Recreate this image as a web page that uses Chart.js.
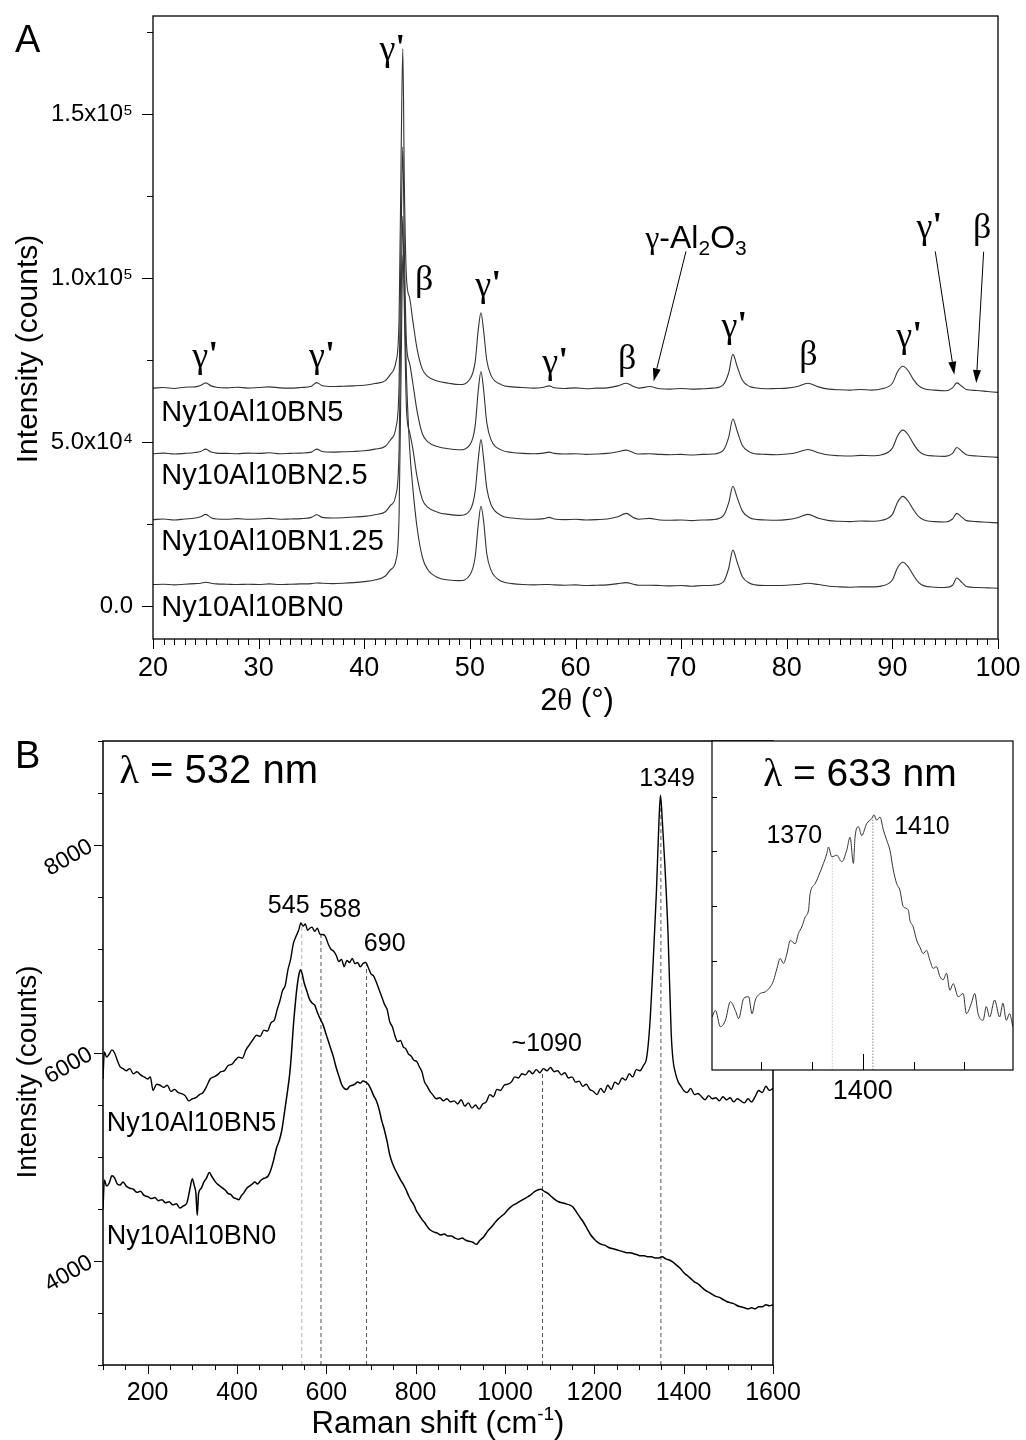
<!DOCTYPE html>
<html>
<head>
<meta charset="utf-8">
<script src="https://cdn.jsdelivr.net/npm/chart.js@4.4.1/dist/chart.umd.min.js"></script>
<style>
  body { margin: 0; background: #fff; width: 1026px; height: 1440px; position: relative; overflow: hidden; }
  canvas { position: absolute; }
</style>
</head>
<body>
<canvas id="xrd" width="1026" height="720" style="left:0;top:0"></canvas>
<canvas id="raman" width="1026" height="740" style="left:0;top:700px"></canvas>
<canvas id="inset" width="336" height="400" style="left:690px;top:720px"></canvas>
<script>
// ---- panel A : XRD, intensities in 10^3 counts ----
const xrdSamples = ['Ny10Al10BN5', 'Ny10Al10BN2.5', 'Ny10Al10BN1.25', 'Ny10Al10BN0']

const twoTheta = [20, 21, 22, 23, 24,
  24.5, 25, 25.5, 26,
  27, 28, 29, 30, 31, 32, 33, 34, 35,
  35.5, 36,
  37, 38, 39, 40, 41, 42,
  42.5, 43, 43.3, 43.5, 43.65, 43.8, 44, 44.3, 44.6, 45, 45.5, 46,
  47, 48, 49, 50,
  50.5, 50.8, 51.05, 51.3, 51.6, 52,
  53, 54, 55, 56, 57,
  57.5, 58,
  59, 60, 61, 62, 63, 64,
  64.8, 65.5, 66,
  67, 68, 69, 70, 71, 72, 73, 74,
  74.5, 74.9, 75.3, 75.8, 76.5, 77,
  78, 79, 80, 81, 82, 83, 84, 85, 86, 87, 88, 89, 90,
  90.5, 91, 91.5, 92, 92.5, 93,
  94, 95,
  95.7, 96.1, 96.6, 97,
  98, 99, 100]

const xrdBN5 = [66.5, 66.7, 66.4, 66.8, 66.9,
  67.3, 68.1, 67.2, 66.8,
  66.6, 66.8, 66.5, 66.7, 66.9, 66.6, 66.5, 66.7, 67.1,
  68.2, 67.3,
  67.0, 67.1, 67.2, 67.4, 67.9, 68.8,
  70.8, 74.5, 88, 140, 170, 128, 100, 94, 87, 78.5, 72.3, 70.1,
  68.6, 68.0, 67.6, 69.2,
  74.5, 84.5, 89.5, 84, 75, 70.4,
  67.5, 66.9, 66.7, 66.5, 66.8,
  67.2, 66.6,
  66.4, 66.6, 66.3, 66.5, 66.6, 67.2,
  68.0, 67.0, 66.5,
  67.0, 66.3, 66.2, 66.4, 66.2, 66.3, 66.5, 67.6,
  71.2, 76.8, 73.2, 68.9, 67.0, 66.6,
  66.3, 66.4, 66.5, 67.0, 68.0, 66.9, 66.2, 66.0, 65.9, 66.1, 65.9, 66.3, 68.0,
  71.6, 73.2, 71.8, 69.1, 67.2, 66.3,
  65.9, 65.7,
  66.6, 68.1, 67.0, 66.1,
  65.8, 65.5, 65.2]

const xrdBN25 = [46.5, 46.7, 46.4, 46.6, 46.9,
  47.2, 47.9, 47.0, 46.7,
  46.6, 46.5, 46.7, 46.6, 46.8, 46.5, 46.6, 46.7, 47.0,
  47.9, 47.2,
  47.0, 47.1, 47.2, 47.4, 47.9, 48.8,
  50.8, 54.5, 68, 115, 140, 108, 80, 74, 68, 59.5, 52.6, 50.2,
  48.6, 48.0, 47.7, 49.2,
  55, 66, 71.6, 66, 56, 50.8,
  47.6, 46.9, 46.6, 46.5, 46.7,
  47.0, 46.6,
  46.4, 46.5, 46.3, 46.4, 46.6, 47.1,
  47.6, 46.8, 46.4,
  46.5, 46.3, 46.2, 46.3, 46.1, 46.3, 46.4, 47.6,
  51.5, 57.1, 53.5, 49.0, 47.0, 46.5,
  46.3, 46.2, 46.4, 46.9, 47.8, 46.8, 46.1, 45.9, 45.8, 46.0, 45.9, 46.2, 48.2,
  52.0, 53.7, 52.3, 49.5, 47.3, 46.3,
  45.8, 45.7,
  46.6, 48.4, 47.2, 46.2,
  45.8, 45.6, 45.4]

const xrdBN125 = [26.4, 26.6, 26.3, 26.6, 26.9,
  27.3, 28.0, 27.0, 26.6,
  26.5, 26.7, 26.5, 26.6, 26.8, 26.5, 26.6, 26.7, 27.1,
  27.9, 27.1,
  26.9, 27.0, 27.2, 27.4, 27.9, 28.8,
  30.8, 34, 48, 95, 119, 90, 60, 53, 48, 39.5, 32.6, 30.2,
  28.6, 28.0, 27.7, 29.2,
  35, 45, 50.8, 45, 36, 31,
  27.6, 26.9, 26.6, 26.5, 26.7,
  27.1, 26.6,
  26.4, 26.5, 26.3, 26.4, 26.6, 27.3,
  28.3, 27.0, 26.5,
  26.8, 26.3, 26.2, 26.3, 26.1, 26.3, 26.4, 27.6,
  31.5, 36.6, 33.2, 29.0, 27.0, 26.5,
  26.3, 26.2, 26.4, 27.0, 28.0, 26.8, 26.1, 25.9, 25.8, 26.0, 25.9, 26.2, 28.0,
  31.8, 33.5, 32.0, 29.4, 27.3, 26.3,
  25.8, 25.7,
  26.6, 28.3, 27.1, 26.1,
  25.8, 25.6, 25.4]

const xrdBN0 = [6.6, 6.7, 6.5, 6.7, 6.9,
  7.0, 7.3, 7.0, 6.8,
  6.7, 6.6, 6.7, 6.6, 6.8, 6.6, 6.7, 6.8, 6.9,
  7.1, 7.0,
  6.9, 7.0, 7.2, 7.5, 8.0, 9.2,
  11.2, 14, 28, 75, 107, 95, 70, 48, 36, 24, 15, 11.2,
  8.7, 8.0, 7.8, 9.5,
  15, 25, 30.5, 26, 16, 11,
  7.6, 6.9, 6.6, 6.5, 6.6,
  6.6, 6.5,
  6.4, 6.5, 6.3, 6.4, 6.5, 6.9,
  7.2, 6.7, 6.4,
  6.4, 6.3, 6.2, 6.3, 6.1, 6.3, 6.4, 7.4,
  11.5, 17.1, 13.5, 9.0, 7.0, 6.5,
  6.3, 6.3, 6.4, 6.6, 7.0, 6.6, 6.1, 5.9, 5.8, 5.9, 5.9, 6.2, 8.0,
  11.8, 13.4, 12.0, 9.4, 7.2, 6.2,
  5.8, 5.7,
  6.4, 8.6, 7.2, 6.0,
  5.7, 5.6, 5.5]

const xrdAngleTicks = [20, 30, 40, 50, 60, 70, 80, 90, 100]
const xrdIntensityTicks = [0, 50, 100, 150]
const xrdIntensityLabels = ['0.0', '5.0x10\u2074', '1.0x10\u2075', '1.5x10\u2075']

// ---- panel B : Raman 532 nm, [shift cm-1, counts] ----
const ramanBN5 = [[100, 5750], [103, 6010], [108, 5960], [114, 5990], [120, 6030], [126, 6000], [132, 5930],
  [138, 5870], [145, 5850], [152, 5830], [160, 5850], [168, 5800], [176, 5820], [184, 5790], [192, 5770],
  [200, 5750], [206, 5770], [212, 5640], [220, 5700], [228, 5690], [236, 5670], [244, 5690], [252, 5630],
  [260, 5650], [268, 5620], [276, 5610], [284, 5590], [292, 5540], [300, 5560], [308, 5570], [316, 5600],
  [324, 5620], [332, 5680], [340, 5750], [348, 5770], [356, 5790], [364, 5820], [372, 5830], [380, 5880],
  [388, 5890], [396, 5930], [404, 5960], [412, 5950], [420, 6030], [428, 6080], [436, 6130], [444, 6170],
  [452, 6160], [460, 6220], [468, 6210], [476, 6290], [484, 6320], [490, 6420], [496, 6500], [502, 6600],
  [508, 6650], [514, 6800], [520, 6900], [526, 7050], [532, 7120], [538, 7180], [543, 7250], [548, 7220],
  [553, 7240], [558, 7180], [563, 7200], [568, 7210], [574, 7170], [580, 7200], [586, 7140], [592, 7140],
  [598, 7120], [604, 7050], [610, 7000], [616, 6980], [622, 6940], [628, 6880], [634, 6900], [640, 6830],
  [646, 6890], [652, 6870], [658, 6910], [664, 6860], [670, 6870], [676, 6830], [682, 6860], [688, 6870],
  [694, 6820], [700, 6760], [706, 6740], [712, 6680], [718, 6610], [724, 6540], [730, 6470], [736, 6420],
  [742, 6300], [748, 6250], [754, 6160], [760, 6110], [766, 6120], [772, 6060], [778, 6040], [784, 5990],
  [790, 5970], [796, 5930], [802, 5920], [808, 5870], [814, 5820], [820, 5720], [826, 5680], [832, 5630],
  [838, 5600], [846, 5560], [854, 5570], [862, 5540], [870, 5560], [878, 5530], [886, 5540], [894, 5510],
  [902, 5550], [910, 5490], [918, 5520], [926, 5470], [934, 5500], [942, 5460], [950, 5510], [958, 5530],
  [966, 5600], [974, 5580], [982, 5650], [990, 5640], [998, 5690], [1006, 5700], [1014, 5720], [1022, 5770],
  [1030, 5760], [1038, 5800], [1046, 5790], [1054, 5830], [1062, 5800], [1070, 5840], [1078, 5810],
  [1086, 5850], [1094, 5830], [1102, 5860], [1110, 5820], [1118, 5830], [1126, 5790], [1134, 5810],
  [1142, 5760], [1150, 5770], [1158, 5720], [1166, 5730], [1174, 5680], [1182, 5700], [1190, 5650],
  [1198, 5630], [1206, 5600], [1214, 5660], [1222, 5620], [1230, 5690], [1238, 5650], [1246, 5720],
  [1254, 5700], [1262, 5760], [1270, 5740], [1278, 5800], [1286, 5770], [1294, 5840], [1302, 5830],
  [1310, 5880], [1317, 5950], [1324, 6260], [1332, 6900], [1339, 7550], [1344, 8150], [1348, 8480],
  [1352, 8250], [1358, 7800], [1365, 7150], [1372, 6200], [1376, 5940], [1382, 5800], [1388, 5720],
  [1394, 5680], [1400, 5640], [1408, 5620], [1416, 5660], [1424, 5600], [1432, 5610], [1440, 5580],
  [1448, 5550], [1456, 5590], [1464, 5560], [1472, 5570], [1480, 5540], [1488, 5580], [1496, 5550],
  [1504, 5570], [1512, 5530], [1520, 5560], [1528, 5540], [1536, 5520], [1544, 5560], [1552, 5530],
  [1560, 5580], [1568, 5640], [1576, 5620], [1584, 5680], [1592, 5640], [1600, 5660]]

const ramanBN0 = [[100, 4500], [103, 4780], [108, 4720], [114, 4750], [120, 4820], [126, 4800], [132, 4740],
  [138, 4730], [145, 4760], [152, 4720], [160, 4700], [168, 4690], [176, 4660], [184, 4670], [192, 4630],
  [200, 4620], [208, 4600], [216, 4610], [224, 4580], [232, 4590], [240, 4560], [248, 4570], [256, 4540],
  [264, 4550], [272, 4510], [280, 4530], [288, 4560], [294, 4680], [300, 4790], [304, 4730], [308, 4650],
  [311, 4440], [314, 4650], [320, 4700], [326, 4760], [332, 4800], [338, 4850], [344, 4810], [350, 4770],
  [356, 4740], [362, 4720], [368, 4700], [374, 4680], [380, 4650], [386, 4640], [392, 4610], [398, 4600],
  [404, 4590], [410, 4630], [416, 4660], [422, 4700], [428, 4720], [434, 4740], [440, 4760], [446, 4740],
  [452, 4770], [458, 4790], [464, 4800], [470, 4820], [476, 4880], [482, 4970], [488, 5080], [494, 5150],
  [500, 5250], [506, 5420], [512, 5600], [518, 5800], [522, 6000], [526, 6250], [530, 6450], [534, 6620],
  [538, 6740], [542, 6800], [546, 6760], [550, 6680], [556, 6600], [562, 6520], [568, 6480], [574, 6460],
  [580, 6390], [586, 6330], [592, 6280], [598, 6200], [604, 6120], [610, 6040], [616, 5960], [622, 5860],
  [628, 5780], [634, 5700], [640, 5660], [646, 5650], [652, 5680], [658, 5690], [664, 5700], [670, 5720],
  [676, 5710], [682, 5730], [688, 5720], [694, 5700], [700, 5650], [706, 5590], [712, 5540], [718, 5460],
  [724, 5350], [730, 5260], [736, 5150], [742, 5020], [748, 4940], [754, 4880], [760, 4830], [766, 4780],
  [772, 4740], [778, 4690], [784, 4630], [790, 4580], [796, 4540], [802, 4480], [808, 4440], [814, 4400],
  [820, 4370], [826, 4330], [832, 4300], [840, 4280], [848, 4270], [856, 4250], [864, 4260], [872, 4240],
  [880, 4240], [888, 4220], [896, 4210], [904, 4220], [912, 4200], [920, 4190], [928, 4180], [936, 4160],
  [944, 4200], [952, 4230], [960, 4280], [968, 4320], [976, 4360], [984, 4400], [992, 4430], [1000, 4460],
  [1008, 4500], [1016, 4530], [1024, 4550], [1032, 4570], [1040, 4590], [1048, 4610], [1056, 4630],
  [1064, 4660], [1072, 4680], [1080, 4690], [1088, 4670], [1096, 4650], [1104, 4620], [1112, 4590],
  [1120, 4570], [1128, 4560], [1136, 4550], [1144, 4540], [1152, 4520], [1160, 4470], [1168, 4420],
  [1176, 4370], [1184, 4310], [1192, 4250], [1200, 4210], [1208, 4180], [1216, 4160], [1224, 4150],
  [1232, 4130], [1240, 4120], [1248, 4110], [1256, 4100], [1264, 4090], [1272, 4080], [1280, 4080],
  [1288, 4070], [1296, 4060], [1304, 4050], [1312, 4050], [1320, 4040], [1328, 4040], [1336, 4030],
  [1344, 4030], [1352, 4040], [1360, 4020], [1368, 4010], [1376, 3990], [1384, 3960], [1392, 3930],
  [1400, 3890], [1408, 3860], [1416, 3830], [1424, 3800], [1432, 3780], [1440, 3750], [1448, 3720],
  [1456, 3700], [1464, 3680], [1472, 3660], [1480, 3650], [1488, 3630], [1496, 3610], [1504, 3600],
  [1512, 3590], [1520, 3570], [1528, 3560], [1536, 3550], [1544, 3540], [1552, 3550], [1560, 3540],
  [1568, 3560], [1576, 3560], [1584, 3580], [1592, 3570], [1600, 3580]]

const ramanMarks = [545, 588, 690, 1084, 1349]
const ramanMarkTops = [7240, 7150, 6850, 5830, 8440]
const ramanShiftTicks = [200, 400, 600, 800, 1000, 1200, 1400, 1600]
const ramanCountTicks = [4000, 6000, 8000]

// ---- inset : Raman 633 nm, arbitrary units ----
const raman633 = [[1251.6, 0.97], [1254.9, 1.09], [1259.8, 0.79], [1264.7, 0.91], [1269.6, 1.25], [1274.5, 1.09],
  [1277.8, 0.94], [1282.7, 1.31], [1287.6, 1.34], [1290.9, 1.03], [1294.2, 1.28], [1299.1, 1.40],
  [1304.0, 1.43], [1308.9, 1.52], [1312.2, 1.64], [1315.5, 1.86], [1318.7, 2.04], [1322.0, 1.95],
  [1325.3, 2.13], [1328.6, 2.37], [1333.5, 2.31], [1336.7, 2.50], [1340.0, 2.62], [1343.3, 2.80],
  [1346.6, 2.93], [1348.2, 3.23], [1353.1, 3.41], [1358.0, 3.62], [1361.3, 3.78], [1364.6, 3.96],
  [1366.2, 4.08], [1369.5, 3.90], [1374.4, 3.93], [1379.3, 3.81], [1384.2, 4.02], [1387.5, 4.26],
  [1390.8, 3.78], [1392.4, 4.26], [1395.7, 4.45], [1399.0, 4.29], [1403.9, 4.51], [1408.8, 4.60],
  [1411.1, 4.67], [1413.7, 4.57], [1417.0, 4.63], [1420.3, 4.39], [1423.5, 4.21], [1426.8, 4.02],
  [1430.1, 3.66], [1433.4, 3.41], [1436.6, 3.29], [1439.9, 2.99], [1444.8, 2.93], [1446.5, 2.74],
  [1449.7, 2.62], [1453.0, 2.38], [1456.3, 2.25], [1459.6, 2.13], [1462.8, 2.19], [1466.1, 2.01],
  [1469.4, 1.86], [1472.7, 1.89], [1476.0, 1.71], [1479.2, 1.65], [1482.5, 1.77], [1485.8, 1.46],
  [1489.1, 1.58], [1494.0, 1.34], [1498.9, 1.40], [1502.1, 1.03], [1507.0, 1.22], [1510.3, 1.40],
  [1513.6, 1.03], [1518.5, 0.91], [1521.7, 1.16], [1525.0, 0.97], [1529.9, 1.28], [1534.8, 0.97],
  [1538.1, 1.22], [1541.4, 0.91], [1544.6, 1.03], [1547.9, 0.79]]
const insetMarks = [1370, 1410]
const insetMarkTops = [3.9, 4.66]
const insetShiftTicks = [1400]

// ---- helpers ----
const SANS = "'Liberation Sans', Arial, Helvetica, sans-serif"
const SERIF = "'Liberation Serif', 'Times New Roman', serif"
const f = (size, fam) => size + 'px ' + (fam || SANS)

Chart.defaults.font.family = SANS
Chart.defaults.color = '#000'

const range = (a, b, step) => {
  const out = []
  for (let v = a; v <= b + 1e-9; v += step) out.push(Math.round(v * 1000) / 1000)
  return out
}

const trace = (pts, color, width, extra) => Object.assign({
  data: pts.map(p => ({ x: p[0], y: p[1] })),
  borderColor: color,
  borderWidth: width,
  pointRadius: 0,
  fill: false,
  cubicInterpolationMode: 'monotone'
}, extra || {})

// axis box sizes are fixed so the plot areas land where the figure has them
const axis = (min, max, ticks, labels, size, horizontal, tickOpts) => ({
  type: 'linear',
  min: min,
  max: max,
  afterBuildTicks: s => { s.ticks = ticks.map(v => ({ value: v })) },
  afterFit: s => {
    if (horizontal) s.height = size; else s.width = size
    s.paddingTop = 0; s.paddingBottom = 0; s.paddingLeft = 0; s.paddingRight = 0
  },
  grid: { display: false, drawTicks: false },
  border: { display: false },
  ticks: Object.assign({
    color: '#000', autoSkip: false, maxRotation: 0,
    callback: (v, i) => labels[i] !== undefined ? labels[i] : ''
  }, tickOpts || {})
})

function richText (ctx, x, y, parts, align) {
  let w = 0
  const sized = parts.map(p => {
    ctx.font = p[1]
    const pw = ctx.measureText(p[0]).width
    w += pw
    return { t: p[0], font: p[1], dy: p[2] || 0, w: pw }
  })
  let cx = align === 'center' ? x - w / 2 : (align === 'right' ? x - w : x)
  sized.forEach(p => {
    ctx.font = p.font
    ctx.fillText(p.t, cx, y + p.dy)
    cx += p.w
  })
}

// tick marks and frame around the plot area
const tickMarks = {
  id: 'tickMarks',
  beforeDraw (chart, args, o) {
    if (!o.background) return
    const a = chart.chartArea
    chart.ctx.save()
    chart.ctx.fillStyle = o.background
    chart.ctx.fillRect(a.left, a.top, a.right - a.left, a.bottom - a.top)
    chart.ctx.restore()
  },
  afterDraw (chart, args, o) {
    const ctx = chart.ctx
    const a = chart.chartArea
    ctx.save()
    ctx.strokeStyle = '#000'
    ctx.lineWidth = 1
    ctx.beginPath()
    ;(o.marks || []).forEach(m => {
      const s = chart.scales[m.axis]
      m.values.forEach(v => {
        const p = Math.round(s.getPixelForValue(v)) + 0.5
        if (m.axis === 'x') { ctx.moveTo(p, a.bottom); ctx.lineTo(p, a.bottom + m.len) } else { ctx.moveTo(a.left, p); ctx.lineTo(a.left - m.len, p) }
      })
    })
    ctx.stroke()
    ctx.lineWidth = o.frame || 1.3
    ctx.strokeRect(a.left, a.top, a.right - a.left, a.bottom - a.top)
    ctx.restore()
  }
}

// text labels and arrows, placed in data coordinates or canvas pixels
const notes = {
  id: 'notes',
  afterDraw (chart, args, o) {
    const ctx = chart.ctx
    const sx = chart.scales.x
    const sy = chart.scales.y
    ctx.save()
    ctx.fillStyle = '#000'
    ctx.strokeStyle = '#000'
    ;(o.texts || []).forEach(n => {
      const x = n.px !== undefined ? n.px : sx.getPixelForValue(n.x)
      const y = n.py !== undefined ? n.py : sy.getPixelForValue(n.y)
      ctx.save()
      ctx.translate(x, y)
      if (n.rot) ctx.rotate(n.rot)
      ctx.textBaseline = n.base || 'alphabetic'
      richText(ctx, 0, 0, n.parts, n.align || 'left')
      ctx.restore()
    })
    ;(o.arrows || []).forEach(ar => {
      const x1 = sx.getPixelForValue(ar.from[0]); const y1 = sy.getPixelForValue(ar.from[1])
      const x2 = sx.getPixelForValue(ar.to[0]); const y2 = sy.getPixelForValue(ar.to[1])
      const ang = Math.atan2(y2 - y1, x2 - x1)
      const hl = 13; const hw = 4
      ctx.lineWidth = 1
      ctx.beginPath()
      ctx.moveTo(x1, y1)
      ctx.lineTo(x2 - hl * Math.cos(ang), y2 - hl * Math.sin(ang))
      ctx.stroke()
      ctx.beginPath()
      ctx.moveTo(x2, y2)
      ctx.lineTo(x2 - hl * Math.cos(ang) + hw * Math.sin(ang), y2 - hl * Math.sin(ang) - hw * Math.cos(ang))
      ctx.lineTo(x2 - hl * Math.cos(ang) - hw * Math.sin(ang), y2 - hl * Math.sin(ang) + hw * Math.cos(ang))
      ctx.closePath()
      ctx.fill()
    })
    ctx.restore()
  }
}

const common = {
  responsive: false,
  animation: false,
  events: []
}

// ---- panel A chart ----
const xrdSeries = [xrdBN5, xrdBN25, xrdBN125, xrdBN0]
const gammaP = (x, y) => ({ x: x, y: y, align: 'center', base: 'middle', parts: [['\u03b3', f(36, SERIF)], ["'", 'bold ' + f(36, SERIF), -1]] })
const betaL = (x, y) => ({ x: x, y: y, align: 'center', base: 'middle', parts: [['\u03b2', f(36, SERIF)]] })

new Chart(document.getElementById('xrd'), {
  type: 'line',
  data: {
    datasets: xrdSeries.map((vals, k) => trace(twoTheta.map((t, i) => [t, vals[i]]), '#333', 1.1, { label: xrdSamples[k] }))
  },
  options: Object.assign({}, common, {
    layout: { padding: { left: 0, top: 16, right: 28, bottom: 0 } },
    scales: {
      x: axis(20, 100, xrdAngleTicks, xrdAngleTicks.map(String), 81, true, { font: { size: 27 }, padding: 13 }),
      y: axis(-10, 180, xrdIntensityTicks, xrdIntensityLabels, 153, false, { font: { size: 24 }, padding: 20 })
    },
    plugins: {
      legend: { display: false },
      tooltip: { enabled: false },
      tickMarks: {
        frame: 1.3,
        marks: [
          { axis: 'x', values: xrdAngleTicks, len: 10 },
          { axis: 'x', values: range(20, 100, 1).filter(v => v % 10), len: 6 },
          { axis: 'y', values: xrdIntensityTicks, len: 11 },
          { axis: 'y', values: [25, 75, 125, 175], len: 6 }
        ]
      },
      notes: {
        texts: [
          gammaP(24.95, 75.8),
          gammaP(36.0, 75.8),
          gammaP(42.66, 169.4),
          betaL(45.68, 99.3),
          gammaP(51.74, 97.5),
          gammaP(58.09, 74.0),
          betaL(64.9, 75.2),
          gammaP(75.04, 85.0),
          betaL(82.05, 76.4),
          gammaP(91.6, 81.9),
          gammaP(93.5, 115.1),
          betaL(98.5, 115.1),
          { x: 66.6, y: 111.8, base: 'middle', parts: [['\u03b3', f(32, SERIF)], ['-Al', f(32)], ['2', f(21), 10], ['O', f(32)], ['3', f(21), 10]] },
          { x: 20.79, y: 56.4, parts: [[xrdSamples[0], f(29)]] },
          { x: 20.79, y: 37.4, parts: [[xrdSamples[1], f(29)]] },
          { x: 20.79, y: 17.0, parts: [[xrdSamples[2], f(29)]] },
          { x: 20.79, y: -2.84, parts: [[xrdSamples[3], f(29)]] },
          { px: 15, py: 52, parts: [['A', f(38)]] },
          { px: 37, py: 349, rot: -Math.PI / 2, align: 'center', parts: [['Intensity (counts)', f(30)]] },
          { px: 577, py: 710, align: 'center', parts: [['2', f(31)], ['\u03b8', f(31, SERIF)], [' (\u00b0)', f(31)]] }
        ],
        arrows: [
          { from: [70.46, 108.2], to: [67.4, 68.6] },
          { from: [94.06, 108.2], to: [95.86, 70.6] },
          { from: [98.64, 108.1], to: [97.94, 68.1] }
        ]
      }
    }
  }),
  plugins: [tickMarks, notes]
})

// ---- panel B main chart ----
const markSets = ramanMarks.map((x, i) => trace([[x, 3000], [x, ramanMarkTops[i]]], i === 0 ? '#b5b5b5' : '#555', 1,
  { borderDash: [4, 3], cubicInterpolationMode: 'default', tension: 0 }))

new Chart(document.getElementById('raman'), {
  type: 'line',
  data: {
    datasets: [
      trace(ramanBN5, '#000', 1.4, { label: 'Ny10Al10BN5' }),
      trace(ramanBN0, '#000', 1.5, { label: 'Ny10Al10BN0' })
    ].concat(markSets)
  },
  options: Object.assign({}, common, {
    layout: { padding: { left: 0, top: 41, right: 253, bottom: 0 } },
    scales: {
      x: axis(100, 1600, ramanShiftTicks, ramanShiftTicks.map(String), 75, true, { font: { size: 25 }, padding: 13 }),
      y: axis(3000, 9000, ramanCountTicks, ramanCountTicks.map(String), 103, false, { font: { size: 23 }, padding: 12, minRotation: 30, maxRotation: 30 })
    },
    plugins: {
      legend: { display: false },
      tooltip: { enabled: false },
      tickMarks: {
        frame: 1.5,
        marks: [
          { axis: 'x', values: ramanShiftTicks, len: 9 },
          { axis: 'x', values: range(100, 1600, 50).filter(v => v % 200), len: 5 },
          { axis: 'y', values: ramanCountTicks, len: 9 },
          { axis: 'y', values: range(3000, 9000, 500).filter(v => v % 2000), len: 5 }
        ]
      },
      notes: {
        texts: [
          { x: 137.2, y: 8593, parts: [['\u03bb', f(40, SERIF)], [' = 532 nm', f(40)]] },
          { x: 515.7, y: 7344, align: 'center', parts: [['545', f(25)]] },
          { x: 631, y: 7306, align: 'center', parts: [['588', f(25)]] },
          { x: 730.7, y: 6982, align: 'center', parts: [['690', f(25)]] },
          { x: 1093.4, y: 6021, align: 'center', parts: [['~1090', f(25)]] },
          { x: 1363, y: 8565, align: 'center', parts: [['1349', f(25)]] },
          { x: 108.3, y: 5252, parts: [['Ny10Al10BN5', f(27)]] },
          { x: 108.3, y: 4163, parts: [['Ny10Al10BN0', f(27)]] },
          { px: 15, py: 68, parts: [['B', f(38)]] },
          { px: 36, py: 372, rot: -Math.PI / 2, align: 'center', parts: [['Intensity (counts)', f(28)]] },
          { px: 438, py: 733, align: 'center', parts: [['Raman shift (cm', f(31)], ['-1', f(19), -13], [')', f(31)]] }
        ]
      }
    }
  }),
  plugins: [tickMarks, notes]
})

// ---- inset chart ----
const insetMarkSets = insetMarks.map((x, i) => trace([[x, 0], [x, insetMarkTops[i]]], i === 0 ? '#c8c8c8' : '#888', 1,
  { borderDash: [1.5, 1.5], cubicInterpolationMode: 'default', tension: 0 }))

new Chart(document.getElementById('inset'), {
  type: 'line',
  data: {
    datasets: [trace(raman633, '#333', 1, { label: '633 nm' })].concat(insetMarkSets)
  },
  options: Object.assign({}, common, {
    layout: { padding: { left: 0, top: 21, right: 13, bottom: 0 } },
    scales: {
      x: axis(1251.5, 1548, insetShiftTicks, ['1400'], 50, true, { font: { size: 27 }, padding: 5 }),
      y: axis(0, 6.02, [2, 3, 4, 5], [], 22, false, { display: false })
    },
    plugins: {
      legend: { display: false },
      tooltip: { enabled: false },
      tickMarks: {
        background: '#fff',
        frame: 1.2,
        marks: [
          { axis: 'x', values: [1400], len: -16 },
          { axis: 'x', values: [1300, 1350, 1450, 1500], len: -8 },
          { axis: 'y', values: [2, 3, 4, 5], len: -5 }
        ]
      },
      notes: {
        texts: [
          { x: 1302, y: 5.19, parts: [['\u03bb', f(39, SERIF)], [' = 633 nm', f(39)]] },
          { x: 1332.5, y: 4.15, align: 'center', parts: [['1370', f(25)]] },
          { x: 1458.3, y: 4.31, align: 'center', parts: [['1410', f(25)]] }
        ]
      }
    }
  }),
  plugins: [tickMarks, notes]
})
</script>
</body>
</html>
